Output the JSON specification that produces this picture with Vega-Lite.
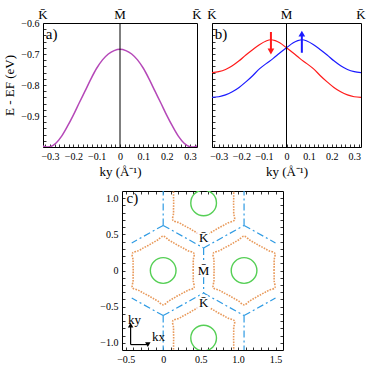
{
"$schema":"https://vega.github.io/schema/vega-lite/v6.json",
"background":"white",
"padding":{"left":3,"top":8,"right":2,"bottom":2},
"config":{
  "font":"Liberation Serif",
  "view":{"stroke":"black","strokeWidth":1},
  "axis":{"domain":false,"grid":false,"tickColor":"black","labelColor":"black","titleColor":"black","labelFont":"Liberation Serif","titleFont":"Liberation Serif","labelFontSize":10,"titleFontSize":13,"titleFontWeight":"normal","labelOverlap":false,"labelFlush":false,"tickWidth":0.8,"tickSize":3,"offset":-3,"labelPadding":4},
  "text":{"font":"Liberation Serif"}
},
"datasets":{
  "bandA":[{"k":-0.33,"E":-0.997},{"k":-0.315,"E":-1.0},{"k":-0.3,"E":-0.999},{"k":-0.275,"E":-0.988},{"k":-0.25,"E":-0.965},{"k":-0.225,"E":-0.933},{"k":-0.2,"E":-0.897},{"k":-0.175,"E":-0.858},{"k":-0.15,"E":-0.82},{"k":-0.125,"E":-0.781},{"k":-0.1,"E":-0.746},{"k":-0.075,"E":-0.719},{"k":-0.05,"E":-0.7},{"k":-0.025,"E":-0.689},{"k":0,"E":-0.685},{"k":0.025,"E":-0.689},{"k":0.05,"E":-0.7},{"k":0.075,"E":-0.719},{"k":0.1,"E":-0.746},{"k":0.125,"E":-0.781},{"k":0.15,"E":-0.82},{"k":0.175,"E":-0.858},{"k":0.2,"E":-0.897},{"k":0.225,"E":-0.933},{"k":0.25,"E":-0.965},{"k":0.275,"E":-0.988},{"k":0.3,"E":-0.999},{"k":0.315,"E":-1.0},{"k":0.33,"E":-0.997}],
  "bandB":[
   {"s":"dn","k":-0.33,"E":-0.76},{"s":"dn","k":-0.3,"E":-0.757},{"s":"dn","k":-0.27,"E":-0.75},{"s":"dn","k":-0.24,"E":-0.738},{"s":"dn","k":-0.21,"E":-0.722},{"s":"dn","k":-0.18,"E":-0.703},{"s":"dn","k":-0.15,"E":-0.686},{"s":"dn","k":-0.12,"E":-0.67},{"s":"dn","k":-0.09,"E":-0.658},{"s":"dn","k":-0.07,"E":-0.654},{"s":"dn","k":-0.05,"E":-0.657},{"s":"dn","k":-0.03,"E":-0.664},{"s":"dn","k":0,"E":-0.68},{"s":"dn","k":0.03,"E":-0.697},{"s":"dn","k":0.06,"E":-0.715},{"s":"dn","k":0.09,"E":-0.731},{"s":"dn","k":0.12,"E":-0.748},{"s":"dn","k":0.15,"E":-0.77},{"s":"dn","k":0.18,"E":-0.79},{"s":"dn","k":0.21,"E":-0.808},{"s":"dn","k":0.24,"E":-0.822},{"s":"dn","k":0.27,"E":-0.832},{"s":"dn","k":0.3,"E":-0.838},{"s":"dn","k":0.33,"E":-0.84},
   {"s":"up","k":0.33,"E":-0.76},{"s":"up","k":0.3,"E":-0.757},{"s":"up","k":0.27,"E":-0.75},{"s":"up","k":0.24,"E":-0.738},{"s":"up","k":0.21,"E":-0.722},{"s":"up","k":0.18,"E":-0.703},{"s":"up","k":0.15,"E":-0.686},{"s":"up","k":0.12,"E":-0.67},{"s":"up","k":0.09,"E":-0.658},{"s":"up","k":0.07,"E":-0.654},{"s":"up","k":0.05,"E":-0.657},{"s":"up","k":0.03,"E":-0.664},{"s":"up","k":0,"E":-0.68},{"s":"up","k":-0.03,"E":-0.697},{"s":"up","k":-0.06,"E":-0.715},{"s":"up","k":-0.09,"E":-0.731},{"s":"up","k":-0.12,"E":-0.748},{"s":"up","k":-0.15,"E":-0.77},{"s":"up","k":-0.18,"E":-0.79},{"s":"up","k":-0.21,"E":-0.808},{"s":"up","k":-0.24,"E":-0.822},{"s":"up","k":-0.27,"E":-0.832},{"s":"up","k":-0.3,"E":-0.838},{"s":"up","k":-0.33,"E":-0.84}],
  "arrowRules":[{"s":"dn","k":-0.069,"y1":-0.629,"y2":-0.686},{"s":"up","k":0.068,"y1":-0.696,"y2":-0.64}],
  "arrowHeads":[{"s":"dn","k":-0.069,"E":-0.692},{"s":"up","k":0.068,"E":-0.634}],
  "topLabels":[{"k":-0.33,"t":"K\u0304"},{"k":0,"t":"M\u0304"},{"k":0.33,"t":"K\u0304"}],
  "segs":[
   {"x":0,"y":0.6235,"x2":0,"y2":1.1},{"x":1.08,"y":0.6235,"x2":1.08,"y2":1.1},
   {"x":0,"y":-0.6235,"x2":0,"y2":-1.1},{"x":1.08,"y":-0.6235,"x2":1.08,"y2":-1.1},
   {"x":0,"y":0.6235,"x2":0.54,"y2":0.3118},{"x":0.54,"y":0.3118,"x2":1.08,"y2":0.6235},
   {"x":0,"y":-0.6235,"x2":0.54,"y2":-0.3118},{"x":0.54,"y":-0.3118,"x2":1.08,"y2":-0.6235},
   {"x":0.54,"y":0.3118,"x2":0.54,"y2":0.09},{"x":0.54,"y":-0.09,"x2":0.54,"y2":-0.3118},
   {"x":0,"y":0.6235,"x2":-0.42,"y2":0.381},{"x":0,"y":-0.6235,"x2":-0.42,"y2":-0.381},
   {"x":1.08,"y":0.6235,"x2":1.5,"y2":0.381},{"x":1.08,"y":-0.6235,"x2":1.5,"y2":-0.381}],
  "orange":[
   {"s":"o1","i":0,"x":0.4,"y":0},{"s":"o1","i":1,"x":0.402,"y":0.071},{"s":"o1","i":2,"x":0.402,"y":0.146},{"s":"o1","i":3,"x":0.411,"y":0.238},{"s":"o1","i":4,"x":0.328,"y":0.275},{"s":"o1","i":5,"x":0.262,"y":0.313},{"s":"o1","i":6,"x":0.2,"y":0.346},{"s":"o1","i":7,"x":0.14,"y":0.383},{"s":"o1","i":8,"x":0.074,"y":0.422},{"s":"o1","i":9,"x":0,"y":0.475},{"s":"o1","i":10,"x":-0.074,"y":0.422},{"s":"o1","i":11,"x":-0.14,"y":0.383},{"s":"o1","i":12,"x":-0.2,"y":0.346},{"s":"o1","i":13,"x":-0.262,"y":0.313},{"s":"o1","i":14,"x":-0.328,"y":0.275},{"s":"o1","i":15,"x":-0.411,"y":0.238},{"s":"o1","i":16,"x":-0.402,"y":0.146},{"s":"o1","i":17,"x":-0.402,"y":0.071},{"s":"o1","i":18,"x":-0.4,"y":0},{"s":"o1","i":19,"x":-0.402,"y":-0.071},{"s":"o1","i":20,"x":-0.402,"y":-0.146},{"s":"o1","i":21,"x":-0.411,"y":-0.238},{"s":"o1","i":22,"x":-0.328,"y":-0.275},{"s":"o1","i":23,"x":-0.262,"y":-0.313},{"s":"o1","i":24,"x":-0.2,"y":-0.346},{"s":"o1","i":25,"x":-0.14,"y":-0.383},{"s":"o1","i":26,"x":-0.074,"y":-0.422},{"s":"o1","i":27,"x":0,"y":-0.475},{"s":"o1","i":28,"x":0.074,"y":-0.422},{"s":"o1","i":29,"x":0.14,"y":-0.383},{"s":"o1","i":30,"x":0.2,"y":-0.346},{"s":"o1","i":31,"x":0.262,"y":-0.313},{"s":"o1","i":32,"x":0.328,"y":-0.275},{"s":"o1","i":33,"x":0.411,"y":-0.238},{"s":"o1","i":34,"x":0.402,"y":-0.146},{"s":"o1","i":35,"x":0.402,"y":-0.071},{"s":"o1","i":36,"x":0.4,"y":0},
   {"s":"o2","i":0,"x":1.48,"y":0},{"s":"o2","i":1,"x":1.482,"y":0.071},{"s":"o2","i":2,"x":1.482,"y":0.146},{"s":"o2","i":3,"x":1.491,"y":0.238},{"s":"o2","i":4,"x":1.408,"y":0.275},{"s":"o2","i":5,"x":1.342,"y":0.313},{"s":"o2","i":6,"x":1.28,"y":0.346},{"s":"o2","i":7,"x":1.22,"y":0.383},{"s":"o2","i":8,"x":1.154,"y":0.422},{"s":"o2","i":9,"x":1.08,"y":0.475},{"s":"o2","i":10,"x":1.006,"y":0.422},{"s":"o2","i":11,"x":0.94,"y":0.383},{"s":"o2","i":12,"x":0.88,"y":0.346},{"s":"o2","i":13,"x":0.818,"y":0.313},{"s":"o2","i":14,"x":0.752,"y":0.275},{"s":"o2","i":15,"x":0.669,"y":0.238},{"s":"o2","i":16,"x":0.678,"y":0.146},{"s":"o2","i":17,"x":0.678,"y":0.071},{"s":"o2","i":18,"x":0.68,"y":0},{"s":"o2","i":19,"x":0.678,"y":-0.071},{"s":"o2","i":20,"x":0.678,"y":-0.146},{"s":"o2","i":21,"x":0.669,"y":-0.238},{"s":"o2","i":22,"x":0.752,"y":-0.275},{"s":"o2","i":23,"x":0.818,"y":-0.313},{"s":"o2","i":24,"x":0.88,"y":-0.346},{"s":"o2","i":25,"x":0.94,"y":-0.383},{"s":"o2","i":26,"x":1.006,"y":-0.422},{"s":"o2","i":27,"x":1.08,"y":-0.475},{"s":"o2","i":28,"x":1.154,"y":-0.422},{"s":"o2","i":29,"x":1.22,"y":-0.383},{"s":"o2","i":30,"x":1.28,"y":-0.346},{"s":"o2","i":31,"x":1.342,"y":-0.313},{"s":"o2","i":32,"x":1.408,"y":-0.275},{"s":"o2","i":33,"x":1.491,"y":-0.238},{"s":"o2","i":34,"x":1.482,"y":-0.146},{"s":"o2","i":35,"x":1.482,"y":-0.071},{"s":"o2","i":36,"x":1.48,"y":0},
   {"s":"o3","i":0,"x":0.129,"y":1.173},{"s":"o3","i":1,"x":0.138,"y":1.081},{"s":"o3","i":2,"x":0.138,"y":1.006},{"s":"o3","i":3,"x":0.14,"y":0.935},{"s":"o3","i":4,"x":0.138,"y":0.864},{"s":"o3","i":5,"x":0.138,"y":0.789},{"s":"o3","i":6,"x":0.129,"y":0.697},{"s":"o3","i":7,"x":0.212,"y":0.66},{"s":"o3","i":8,"x":0.278,"y":0.622},{"s":"o3","i":9,"x":0.34,"y":0.589},{"s":"o3","i":10,"x":0.4,"y":0.552},{"s":"o3","i":11,"x":0.466,"y":0.513},{"s":"o3","i":12,"x":0.54,"y":0.46},{"s":"o3","i":13,"x":0.614,"y":0.513},{"s":"o3","i":14,"x":0.68,"y":0.552},{"s":"o3","i":15,"x":0.74,"y":0.589},{"s":"o3","i":16,"x":0.802,"y":0.622},{"s":"o3","i":17,"x":0.868,"y":0.66},{"s":"o3","i":18,"x":0.951,"y":0.697},{"s":"o3","i":19,"x":0.942,"y":0.789},{"s":"o3","i":20,"x":0.942,"y":0.864},{"s":"o3","i":21,"x":0.94,"y":0.935},{"s":"o3","i":22,"x":0.942,"y":1.006},{"s":"o3","i":23,"x":0.942,"y":1.081},{"s":"o3","i":24,"x":0.951,"y":1.173},
   {"s":"o4","i":0,"x":0.129,"y":-1.173},{"s":"o4","i":1,"x":0.138,"y":-1.081},{"s":"o4","i":2,"x":0.138,"y":-1.006},{"s":"o4","i":3,"x":0.14,"y":-0.935},{"s":"o4","i":4,"x":0.138,"y":-0.864},{"s":"o4","i":5,"x":0.138,"y":-0.789},{"s":"o4","i":6,"x":0.129,"y":-0.697},{"s":"o4","i":7,"x":0.212,"y":-0.66},{"s":"o4","i":8,"x":0.278,"y":-0.622},{"s":"o4","i":9,"x":0.34,"y":-0.589},{"s":"o4","i":10,"x":0.4,"y":-0.552},{"s":"o4","i":11,"x":0.466,"y":-0.513},{"s":"o4","i":12,"x":0.54,"y":-0.46},{"s":"o4","i":13,"x":0.614,"y":-0.513},{"s":"o4","i":14,"x":0.68,"y":-0.552},{"s":"o4","i":15,"x":0.74,"y":-0.589},{"s":"o4","i":16,"x":0.802,"y":-0.622},{"s":"o4","i":17,"x":0.868,"y":-0.66},{"s":"o4","i":18,"x":0.951,"y":-0.697},{"s":"o4","i":19,"x":0.942,"y":-0.789},{"s":"o4","i":20,"x":0.942,"y":-0.864},{"s":"o4","i":21,"x":0.94,"y":-0.935},{"s":"o4","i":22,"x":0.942,"y":-1.006},{"s":"o4","i":23,"x":0.942,"y":-1.081},{"s":"o4","i":24,"x":0.951,"y":-1.173}],
  "circles":[{"x":0,"y":0},{"x":1.08,"y":0},{"x":0.54,"y":0.935},{"x":0.54,"y":-0.935}],
  "clabels":[{"x":0.54,"y":0.45,"t":"K\u0304"},{"x":0.54,"y":0.0,"t":"M\u0304"},{"x":0.54,"y":-0.45,"t":"K\u0304"}],
  "cArrowRules":[{"x":-0.435,"y":-1.025,"x2":-0.435,"y2":-0.76},{"x":-0.435,"y":-1.025,"x2":-0.21,"y2":-1.025}],
  "cArrowHeads":[{"x":-0.435,"y":-0.755,"d":"up"},{"x":-0.205,"y":-1.025,"d":"right"}],
  "cText":[{"x":-0.49,"y":1.0,"t":"c)","f":"p"},{"x":-0.47,"y":-0.68,"t":"ky","f":"k"},{"x":-0.15,"y":-0.92,"t":"kx","f":"k"}]
},
"vconcat":[
 {"hconcat":[
  {"width":154,"height":124,
   "layer":[
    {"data":{"name":"bandA"},"mark":{"type":"line","color":"#b548b8","strokeWidth":1.5,"interpolate":"monotone","clip":true},
     "encoding":{
      "x":{"field":"k","type":"quantitative","scale":{"domain":[-0.33,0.33],"nice":false,"zero":false},
           "axis":{"title":"ky (Å⁻¹)","values":[-0.32,-0.3,-0.28,-0.26,-0.24,-0.22,-0.2,-0.18,-0.16,-0.14,-0.12,-0.1,-0.08,-0.06,-0.04,-0.02,0,0.02,0.04,0.06,0.08,0.1,0.12,0.14,0.16,0.18,0.2,0.22,0.24,0.26,0.28,0.3,0.32],
             "labelExpr":"abs(datum.value*10-round(datum.value*10))<0.001 ? (datum.value==0 ? '0' : format(datum.value,'.1f')) : ''"}},
      "y":{"field":"E","type":"quantitative","scale":{"domain":[-1,-0.6],"nice":false,"zero":false},
           "axis":{"title":"E - EF (eV)","values":[-1,-0.98,-0.96,-0.94,-0.92,-0.9,-0.88,-0.86,-0.84,-0.82,-0.8,-0.78,-0.76,-0.74,-0.72,-0.7,-0.68,-0.66,-0.64,-0.62,-0.6],
             "labelExpr":"abs(datum.value*10-round(datum.value*10))<0.001 && datum.value>-0.95 ? format(datum.value,'.1f') : ''"}}}},
    {"data":{"values":[{"k":0}]},"mark":{"type":"rule","color":"black","strokeWidth":1},"encoding":{"x":{"field":"k","type":"quantitative","axis":null}}},
    {"data":{"name":"topLabels"},"mark":{"type":"text","baseline":"bottom","dy":-1,"fontSize":13,"color":"black"},
     "encoding":{"x":{"field":"k","type":"quantitative","axis":null},"y":{"datum":-0.6,"axis":null},"text":{"field":"t"}}},
    {"data":{"values":[{"k":-0.318,"E":-0.637,"t":"a)"}]},"mark":{"type":"text","align":"left","baseline":"middle","fontSize":15,"color":"black"},
     "encoding":{"x":{"field":"k","type":"quantitative","axis":null},"y":{"field":"E","type":"quantitative","axis":null},"text":{"field":"t"}}}
   ],
   "resolve":{"axis":{"x":"independent","y":"independent"}}},
  {"width":149,"height":124,
   "layer":[
    {"data":{"name":"bandB"},"mark":{"type":"line","strokeWidth":1.2,"interpolate":"monotone","clip":true},
     "encoding":{
      "x":{"field":"k","type":"quantitative","scale":{"domain":[-0.33,0.33],"nice":false,"zero":false},
           "axis":{"title":"ky (Å⁻¹)","values":[-0.32,-0.3,-0.28,-0.26,-0.24,-0.22,-0.2,-0.18,-0.16,-0.14,-0.12,-0.1,-0.08,-0.06,-0.04,-0.02,0,0.02,0.04,0.06,0.08,0.1,0.12,0.14,0.16,0.18,0.2,0.22,0.24,0.26,0.28,0.3,0.32],
             "labelExpr":"abs(datum.value*10-round(datum.value*10))<0.001 ? (datum.value==0 ? '0' : format(datum.value,'.1f')) : ''"}},
      "y":{"field":"E","type":"quantitative","scale":{"domain":[-1,-0.6],"nice":false,"zero":false},
           "axis":{"title":null,"labels":false,"values":[-1,-0.98,-0.96,-0.94,-0.92,-0.9,-0.88,-0.86,-0.84,-0.82,-0.8,-0.78,-0.76,-0.74,-0.72,-0.7,-0.68,-0.66,-0.64,-0.62,-0.6]}},
      "color":{"field":"s","type":"nominal","scale":{"domain":["dn","up"],"range":["#ff1a1a","#1a1aff"]},"legend":null}}},
    {"data":{"values":[{"k":0}]},"mark":{"type":"rule","color":"black","strokeWidth":1},"encoding":{"x":{"field":"k","type":"quantitative","axis":null}}},
    {"data":{"name":"arrowRules"},"mark":{"type":"rule","strokeWidth":2},
     "encoding":{"x":{"field":"k","type":"quantitative","axis":null},"y":{"field":"y1","type":"quantitative","axis":null},"y2":{"field":"y2"},
      "color":{"field":"s","type":"nominal","scale":{"domain":["dn","up"],"range":["#ff1a1a","#1a1aff"]},"legend":null}}},
    {"data":{"name":"arrowHeads"},"mark":{"type":"point","filled":true,"size":45,"opacity":1},
     "encoding":{"x":{"field":"k","type":"quantitative","axis":null},"y":{"field":"E","type":"quantitative","axis":null},
      "shape":{"field":"s","type":"nominal","scale":{"domain":["dn","up"],"range":["triangle-down","triangle-up"]},"legend":null},
      "color":{"field":"s","type":"nominal","scale":{"domain":["dn","up"],"range":["#ff1a1a","#1a1aff"]},"legend":null}}},
    {"data":{"name":"topLabels"},"mark":{"type":"text","baseline":"bottom","dy":-1,"fontSize":13,"color":"black"},
     "encoding":{"x":{"field":"k","type":"quantitative","axis":null},"y":{"datum":-0.6,"axis":null},"text":{"field":"t"}}},
    {"data":{"values":[{"k":-0.318,"E":-0.637,"t":"b)"}]},"mark":{"type":"text","align":"left","baseline":"middle","fontSize":15,"color":"black"},
     "encoding":{"x":{"field":"k","type":"quantitative","axis":null},"y":{"field":"E","type":"quantitative","axis":null},"text":{"field":"t"}}}
   ],
   "resolve":{"axis":{"x":"independent","y":"independent"}}}
 ],"spacing":3},
 {"hconcat":[
  {"width":56,"height":10,"data":{"values":[]},"mark":"point","view":{"stroke":null}},
  {"width":161,"height":159,
   "layer":[
    {"data":{"name":"segs"},"mark":{"type":"rule","color":"#2f9be3","strokeWidth":1.2,"strokeDash":[7,3,2,3],"clip":true},
     "encoding":{
      "x":{"field":"x","type":"quantitative","scale":{"domain":[-0.55,1.6],"nice":false,"zero":false},
           "axis":{"title":null,"values":[-0.5,-0.4,-0.3,-0.2,-0.1,0,0.1,0.2,0.3,0.4,0.5,0.6,0.7,0.8,0.9,1,1.1,1.2,1.3,1.4,1.5],
             "labelExpr":"abs(datum.value*2-round(datum.value*2))<0.001 ? (datum.value==0 ? '0' : format(datum.value,'.1f')) : ''"}},
      "y":{"field":"y","type":"quantitative","scale":{"domain":[-1.1,1.1],"nice":false,"zero":false},
           "axis":{"title":null,"values":[-1,-0.9,-0.8,-0.7,-0.6,-0.5,-0.4,-0.3,-0.2,-0.1,0,0.1,0.2,0.3,0.4,0.5,0.6,0.7,0.8,0.9,1],
             "labelExpr":"abs(datum.value*2-round(datum.value*2))<0.001 ? (datum.value==0 ? '0' : format(datum.value,'.1f')) : ''"}},
      "x2":{"field":"x2"},"y2":{"field":"y2"}}},
    {"data":{"name":"orange"},"mark":{"type":"line","color":"#e8995a","strokeWidth":1.6,"strokeDash":[1.6,1.2],"interpolate":"cardinal","clip":true},
     "encoding":{"x":{"field":"x","type":"quantitative","axis":null},"y":{"field":"y","type":"quantitative","axis":null},"detail":{"field":"s"},"order":{"field":"i","type":"quantitative"}}},
    {"data":{"name":"circles"},"mark":{"type":"point","shape":"circle","filled":false,"color":"#55cf55","strokeWidth":1.4,"size":660,"opacity":1,"clip":true},
     "encoding":{"x":{"field":"x","type":"quantitative","axis":null},"y":{"field":"y","type":"quantitative","axis":null}}},
    {"data":{"name":"clabels"},"mark":{"type":"text","fontSize":13,"baseline":"middle","color":"white","stroke":"white","strokeWidth":4},
     "encoding":{"x":{"field":"x","type":"quantitative","axis":null},"y":{"field":"y","type":"quantitative","axis":null},"text":{"field":"t"}}},
    {"data":{"name":"clabels"},"mark":{"type":"text","fontSize":13,"baseline":"middle","color":"black"},
     "encoding":{
      "x":{"field":"x","type":"quantitative",
           "axis":{"orient":"top","title":null,"labels":false,"values":[-0.5,-0.4,-0.3,-0.2,-0.1,0,0.1,0.2,0.3,0.4,0.5,0.6,0.7,0.8,0.9,1,1.1,1.2,1.3,1.4,1.5]}},
      "y":{"field":"y","type":"quantitative",
           "axis":{"orient":"right","title":null,"labels":false,"values":[-1,-0.9,-0.8,-0.7,-0.6,-0.5,-0.4,-0.3,-0.2,-0.1,0,0.1,0.2,0.3,0.4,0.5,0.6,0.7,0.8,0.9,1]}},
      "text":{"field":"t"}}},
    {"data":{"name":"cArrowRules"},"mark":{"type":"rule","color":"black","strokeWidth":1.2},
     "encoding":{"x":{"field":"x","type":"quantitative","axis":null},"y":{"field":"y","type":"quantitative","axis":null},"x2":{"field":"x2"},"y2":{"field":"y2"}}},
    {"data":{"name":"cArrowHeads"},"mark":{"type":"point","filled":true,"color":"black","size":30,"opacity":1},
     "encoding":{"x":{"field":"x","type":"quantitative","axis":null},"y":{"field":"y","type":"quantitative","axis":null},
      "shape":{"field":"d","type":"nominal","scale":{"domain":["up","right"],"range":["triangle-up","triangle-right"]},"legend":null}}},
    {"data":{"name":"cText"},"mark":{"type":"text","align":"left","baseline":"middle","color":"black"},
     "encoding":{"x":{"field":"x","type":"quantitative","axis":null},"y":{"field":"y","type":"quantitative","axis":null},"text":{"field":"t"},
      "size":{"field":"f","type":"nominal","scale":{"domain":["p","k"],"range":[15,13]},"legend":null}}}
   ],
   "resolve":{"axis":{"x":"independent","y":"independent"}}}
 ],"spacing":0}
],
"spacing":11
}
